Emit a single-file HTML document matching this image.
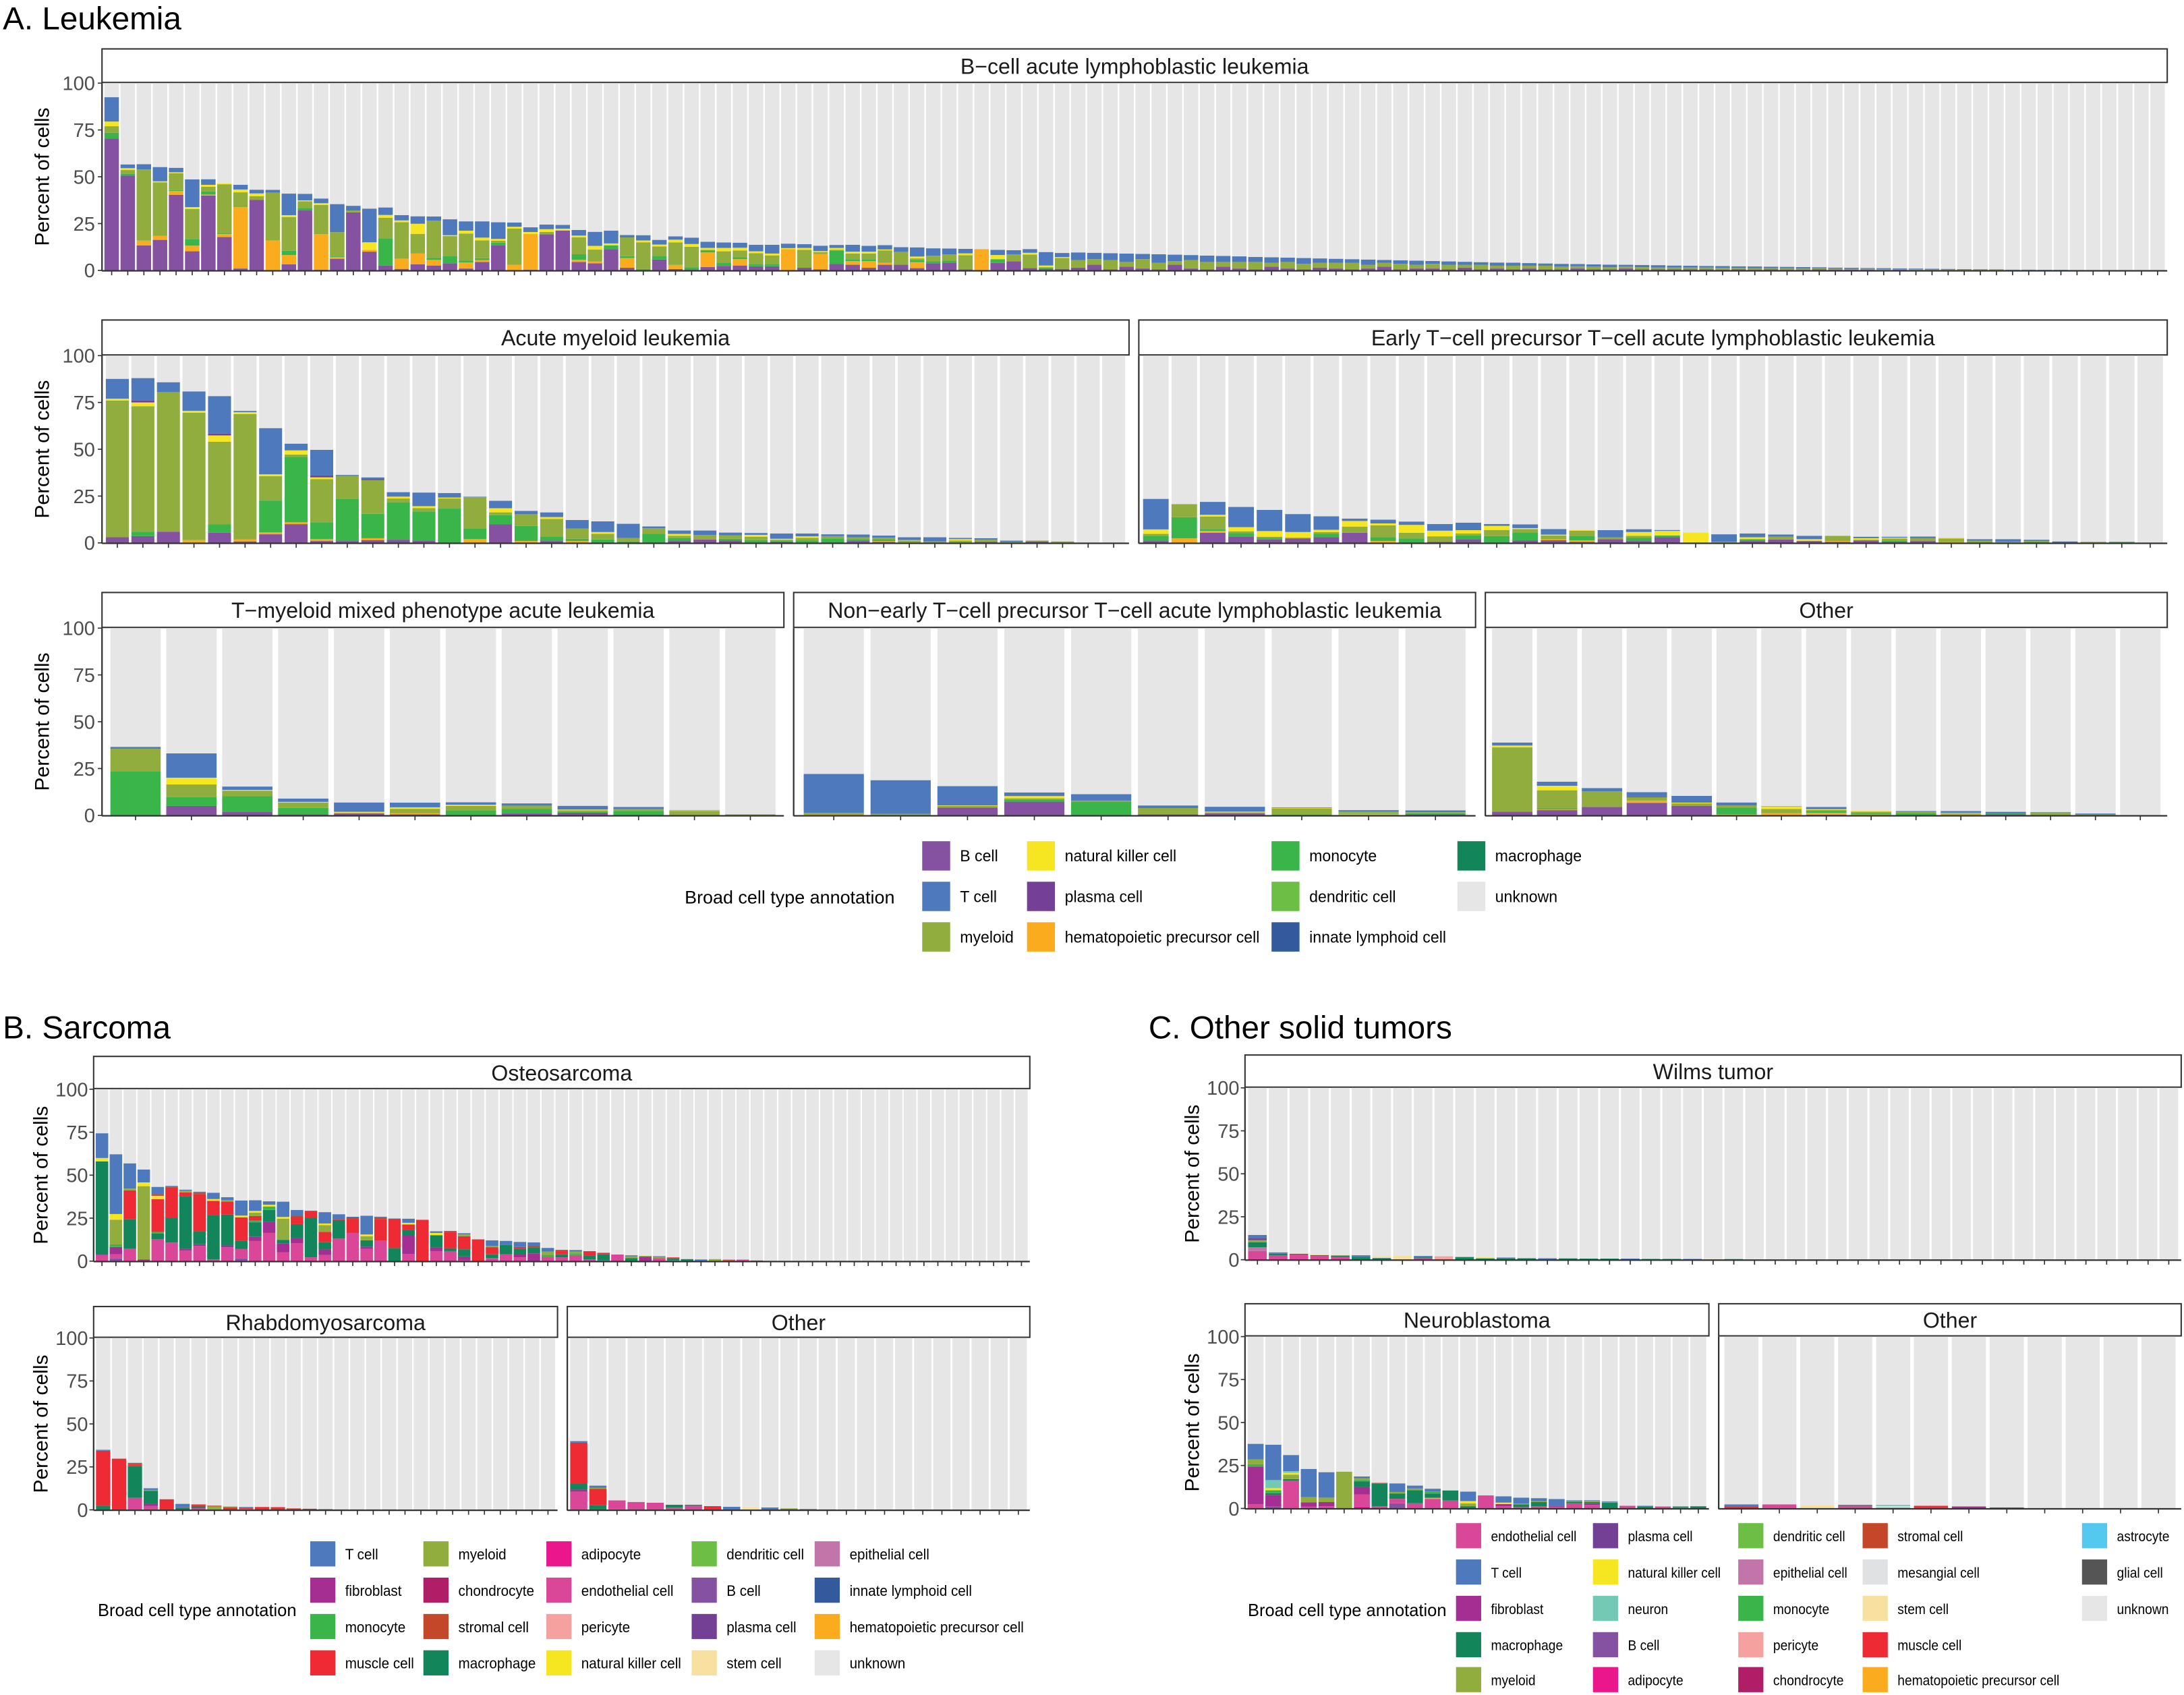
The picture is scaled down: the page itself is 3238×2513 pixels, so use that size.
<!DOCTYPE html>
<html><head><meta charset="utf-8">
<style>
html,body{margin:0;padding:0;background:#fff;}
svg{display:block;font-family:"Liberation Sans",Arial,sans-serif;}
</style></head>
<body>
<svg id="fig" xmlns="http://www.w3.org/2000/svg" width="3238" height="2513" viewBox="0 0 1563 1213" preserveAspectRatio="none">
<rect x="0" y="0" width="1563" height="1213" fill="#fff"/>
<text x="2" y="21" font-size="23" fill="#000">A.  Leukemia</text>
<text x="2" y="743" font-size="23" fill="#000">B.  Sarcoma</text>
<text x="822" y="743" font-size="23" fill="#000">C.  Other solid tumors</text>
<g id="panels"></g>
<g id="legends"></g>
</svg>
<script>
// ---------- colours ----------
const COL = {"T cell":"#4e79bc","myeloid":"#90ad3e","adipocyte":"#ec168c","dendritic cell":"#6dbe45","epithelial cell":"#c175a8","fibroblast":"#a42e92","chondrocyte":"#b01e68","endothelial cell":"#db4798","B cell":"#8551a1","innate lymphoid cell":"#325a9c","monocyte":"#39b54a","stromal cell":"#c4472a","pericyte":"#f4a19f","plasma cell":"#734096","hematopoietic precursor cell":"#fbac1e","muscle cell":"#ee2a34","macrophage":"#13855a","natural killer cell":"#f6e622","stem cell":"#f7e0a0","unknown":"#e5e6e5","neuron":"#74c9b5","mesangial cell":"#e0e1e3","astrocyte":"#54c9f0","glial cell":"#555555"};

// ---------- B-ALL (128 samples) ----------
const ball_B = [70.5,50.6,13.3,16.3,40.4,10.2,40,17.8,1,37.6, 0,3.2,32,0.3,6.2,31,10,2.6,0.8,3.2, 2.6,3.8,1,4.5,13.3,0,0.3,19.3,21.3,4.5, 3.8,11.4,1.4,0,5.8,0.7,0.6,1.8,2.4,2.6, 2.2,2.2,0,1.4,0.6,3.4,3,1.4,3,3, 1.2,3.8,4.2,0.6,0,4,4.8,1.2,0.8,0.8,
 1.5,3,0.5,2,1,0.5,3,1,0.5,2, 1,0.5,2,1,0.5,1.5,1,0.5,1,2, 0.5,1,1,0.5,1.5,0.5,1,0.5,1,0.5, 0.5,1,0.5,0.5,1,0.5,0.5,0.5,0.5,0.5, 0.3,0.5,0.3,0.5,0.3,0.3,0.5,0.3,0.3,0.3, 0.2,0.3,0.2,0.2,0.2,0.2,0.1,0.1,0.1,0.1, 0.1,0.1,0,0,0,0,0,0];
const ball_HPC = [0,0,2.6,2.2,2,3,0.5,1.7,33,0, 16,5,0,19,1,0,1,0,5.4,5.8, 3,0,3.2,1,0,3,19.2,0,0,1.2, 1,0,5.2,0,0,2.2,0,7.8,0,3.4, 0,0,11.4,0,8.2,0,2,3.6,1,0, 3.2,0,0,0,11.4,0,0,0,0,0];
const ball_mono = [3,1,0,0,0.5,3.6,1.7,0.7,0.5,0, 0,2.3,1.3,0,0.6,0,0,14.5,0,0, 1,4,1,1,1.5,0,0,0,0,2.9, 0,2,1,0.7,2,0,1,1,1.8,1, 1,1,0,0,0,7,1,1,0,0, 1,1,1,0,0,2,0,0,0.8,0];
const ball_my = [3.5,2,38,28.5,9,16,2.5,25.8,7.2,2, 25.5,18,3.6,15.6,12.6,1,0,11,19.5,10.5, 20,10.5,14.5,9.5,1,19.3,0,1.2,0,9, 6.3,0,10,14.3,5,12,11,0.4,6,3.6, 6,4.8,0,9.6,1,0.6,3,3,6.7,6.9, 1,3,3.3,7.5,0,0,3.8,7.2,0,5.8,
 4,3,5,2.5,5,3.5,2,4.5,4,2.5, 3.5,4,2,3.5,3,2.5,3,3.5,2,2, 3,2,2.5,2.5,1.5,2.5,1.5,2,1.5,2, 1.5,1.2,1.5,1.2,1,1.2,1,1,1,1, 1,0.8,0.9,0.7,0.8,0.7,0.6,0.6,0.5,0.5, 0.5,0.4,0.4,0.3,0.3,0.2,0.2,0.2,0.1,0.1, 0.1,0.1,0.1,0.1,0,0,0,0];
const ball_NK = [2.5,1,0,0.6,0.5,1,1,0.5,1.5,1.5, 0,1,0.5,1,0,0,4,1.5,1,5.4, 0,0.5,1.5,1.5,1,1,1,1.5,1,1, 2,1,0,1,1,1.5,1.5,1,1.8,1.5, 1,1,0.5,1,0.5,1,1,1,0.5,0, 1,0,0,1,0,2.2,0,1,1,0.5];
const ball_T = [13,2,2.8,7.6,2.4,14.8,3,0,2.5,2, 1.5,11.5,3.5,2.5,15,2.5,18,4,2.8,4, 2.2,8.5,5,8.7,8.9,2.3,2.5,2.5,2,3, 7.5,6.8,1.3,2.8,2.5,1.8,3.4,3.3,2.9,2.7, 3.5,4.7,2.4,2,2.9,1.6,3.7,3.1,2.3,2.5, 4.9,4,3.2,2.4,0,2.8,2.2,2,7.2,2.2,
 4.1,3.4,3.7,4.5,2.8,4.6,3.4,2.7,3.4,3.2, 3,2.7,3,2.3,3.1,2.4,2.2,2,2.8,1.6, 1.9,2.2,1.5,1.8,1.6,1.4,1.7,1.6,1.4,1.2, 1.5,1.2,1.2,1.4,1,1.2,1.3,1.1,1,0.9, 1,0.9,0.9,0.8,0.8,0.8,0.6,0.6,0.6,0.5, 0.5,0.4,0.4,0.4,0.3,0.3,0.3,0.2,0.2,0.2, 0.1,0.1,0.1,0.1,0.1,0.1,0,0];

// ---------- AML (40) ----------
const aml_B = [3,3.6,6,0,5.4,0.8,4.6,10,1,1, 1.5,1.7,1.3,0,0,10,0,1,0,0, 0,0,1,1.8,1.2,0,0.5,0,0,1, 0.5,0,0,0,0.5,0,0.8,0,0,0];
const aml_HPC = [0,0,0,1.5,0,1,1,1,1,0, 1,0,0,0,2,0,1,0,1,0, 0,0,0,0,0,0,0,0,0,0, 0.5,0,0,0,0,0,0,0,0,0];
const aml_mono = [0,2.4,0,0,4.6,0,17,35,9,22.5, 13,20,15.5,18.3,5.8,4.8,8,2.2,1.2,1.8, 0.8,4.8,1.6,0,1,1.5,0.5,1.2,2.4,1, 1,0,0,0,0,0,0,0,0,0];
const aml_my = [73,67,74.5,68,44,67,13,1.2,23,12.3, 18,2,1.8,5.4,16.6,1.5,6.3,9.6,5.4,3, 1.8,3,1.2,2.4,1.8,1.8,0.7,1.5,1.2,1, 0.8,1.2,0.8,1.2,1.2,0.5,0.5,0.8,0,0];
const aml_NK = [1,2,0,1,3.4,1,1,2.2,1,0, 0,1,1,0.5,0,2.2,0,1,0,1, 0,0,1,0,0,1,0.5,0.8,0,0, 0,0.3,0,0.8,0,0,0,0,0,0];
const aml_plasma = [0,1,0,0,1,0,0,0,1,0, 0.5];
const aml_T = [10.6,12,5.3,10.4,20,0.7,24.7,3.6,13.7,0.5, 1,2.4,7.3,2.4,0.3,4,1.8,2.5,4.6,5.7, 7.6,1,1.8,2.4,1.5,1,2.8,1.5,1,1.5, 1.1,1.5,2.2,0.7,0.8,0.7,0,0,0,0];

// ---------- ETP (36) ----------
const etp_B = [1,0,5.4,3.2,1.8,2.3,3,5.4,0,0, 0.5,2,0,1.2,1.4,0.5,2,1,3,0, 0,1,1.8,1,0.5,1.2,0.5,1,0,0, 0,0,0,0,0,0];
const etp_HPC = [0,2.4,1,0,0,0,0,0,1,0, 0,0,0,0,0.5,0.8,0,0,0,0, 0,0,0,0,0.5,0,0,0,0.5,0];
const etp_mono = [2.8,11.3,1,2,1,0,1.8,0,2,2.4, 0,2,3.6,4.4,0,2.4,0,1.8,1,0, 0,1,0,0,0,0,0.8,0,0,0, 0,0.5,0,0,0.6,0];
const etp_my = [1,7,6.6,1,0.5,0.5,1,3.3,6.4,3, 3,1,3.3,1.8,2,2.8,1,1,0,0.2, 0.6,0,1.5,0,2.8,0.5,1,1.5,1.8,1.2, 0.6,0.5,0,0.6,0,0];
const etp_NK = [2.4,0,1,2.2,3,3,1.2,3,1,4.2, 3,1.8,2.2,0.5,0.5,0.5,0,2,2.4,5.3, 0,1,0,1,0,0.8,0.5,0,0.5,0];
const etp_T = [16.3,0,6.9,10.8,11.3,9.6,7.2,1.3,2,1.8, 3.6,4,1,2,3,0,3.8,1.5,0.5,0, 4,2,1.2,1.8,0,0.8,0.5,0.9,0,0.8, 1.4,0.7,0.8,0,0,0];

// ---------- T-myeloid (12) ----------
const tmy_B = [0,5,2,0.5,1,0.5,0,1,1.4,0,0,0];
const tmy_HPC = [0,0,0,0,0.4,0.6,0,0,0,0,0,0];
const tmy_mono = [23.6,4.8,8.2,3.5,0,0,2.7,2.5,0.5,2.4,0,0];
const tmy_my = [12,6.7,3,2.8,0,2.4,2.4,1.7,0.8,1,2.4,0.6];
const tmy_NK = [0,3.6,0.4,0.4,0.5,0.8,0.6,0,0.4,0,0.3,0];
const tmy_T = [1,13,1.8,1.8,5,2.5,1.3,1.2,2,1.1,0.2,0];

// ---------- Non-early T-ALL (10) ----------
const ne_B = [0,0,4.2,7.3,0,0.6,1,0,0.2,0.5];
const ne_HPC = [0.3,0,0,0,0,0,0,0,0.6,0];
const ne_mono = [0,0,0,1.2,7.3,0,0,0.3,0.3,0.6];
const ne_my = [1,0.8,0.8,0.6,0.6,3.3,0.6,3.4,0.9,0.6];
const ne_NK = [0,0,0.3,1.2,0,0,0.4,0.3,0,0];
const ne_T = [20.8,18,10.3,1.9,3.4,1.4,2.6,0.3,0.8,1];

// ---------- Other leukemia (15) ----------
const ol_B = [2,2.8,4.5,6.7,5.1,0,0,0.3,0,0,0,0.5,0,0,0];
const ol_HPC = [0,0.3,0,1.2,0,0.5,1.2,1,0.5,0,0.4,0,0,0,0];
const ol_mono = [0,0.6,0,0,0,3.6,0,1,0.8,1.3,0,0.5,0,0,0];
const ol_my = [34.3,9.7,8.4,1.8,1.3,1.2,2.2,0.6,0.7,0.6,0.6,0,1.6,0.4,0];
const ol_NK = [1,2.4,0,0,0.4,0,1.2,0.4,0.4,0,0.3,0,0,0,0];
const ol_plasma = [0,0,0,0.4,0,0.3];
const ol_T = [1.6,2.2,1.7,2.3,3.6,1.3,0.2,1.2,0,0.4,1,0.9,0.2,0.6,0];

// ---------- Osteosarcoma (67) ----------
const os_B = [0,1.5,0,0,0,0,0,0,0,0, 1.5];
const os_endo = [3.5,2.4,7.2,0,12.7,10.8,6.2,8.8,1,8.1, 5.5,11.7,16.4,5.2,10.5,2.2,3.5,13.1,16.4,7.1, 11.8,0,4.2,0,5.8,5.8,0.5,0,1.8,3.9, 2.2,0,2.6,2.2,3.5,1,0.4,3.9,0,0, 1.8,0.4,0,0,0,0,0.9,0];
const os_fibro = [0.5,4.3,0,1,0,0,1,1,0,1, 0,2.4,6.4,5.2,3.1,0,3.3,0,0,1.3, 0,0,10.8,0,2.1,0,2.2,0,0,0, 2,4.5,0,0,0,0,0,0,0,2.6];
const os_chondro = [0,0,0,0,0,0,0,0,0,0, 0,0,0,0,0,0,0,0,0,0, 0,0,0,0,0,0,0,0,0,0, 0,0,0,0,0,0,0,0,0,0, 0,0,0,0,0,0,0,0.4];
const os_macro = [54,0,17.3,0,3.3,14.4,30.6,7.6,25.8,18, 4.7,8.5,7,2,7.9,23,4.2,10.8,0,3.7, 0,7.6,3.3,0,7.2,1.7,4.2,0,2.1,5.5, 3,3.4,0,1.7,0,2.2,3.5,0,1.8,0, 0,1.2,1.2];
const os_mono = [0,1.5,0,0,1,0,0,0,0,0, 0,1,2,0,0,0,0,0,0,0, 0,0,0,0,0,0,0,0,0,0, 0,0,1,0,1];
const os_muscle = [0,0,16.7,0,19,17.5,2.2,21.4,8.3,7.5, 13.8,2.6,0,0,3.9,3.9,6,0.5,8,0, 12.7,17,3,24.1,0,9.6,7.6,12.7,4.2,0, 1,0,0,2.2,0,2.6,1,0,0,0, 0,0.6,0,0,0,0.6];
const os_my = [0,14.4,1,42.6,0,0,1,0,0,1, 0,2,0,12.3,0,0,3.9,0,0,2.4, 0,0,0,0,0,0,1,0,0.7,0, 0,0,2,0,1,0,0,0,1,0.5, 0.6,0,0,0,1.2,0.4];
const os_NK = [2,3.3,0,2.2,2,0,0,0,1,0, 1,1,1,1,0,0,1,0,0,1, 0,0,1,0,1.3];
const os_stromal = [0,0,0,0,1,0.5,0,1,0,0, 0,0,0,0,1,0,0,0,1,0, 1,0,0,0,0,0.5,0,0,0,0.3, 0,1,0,0.5];
const os_T = [14.4,34.8,14.7,7.5,4.2,0.6,0.6,0.6,3.7,1.6, 8.8,6.2,2,8.9,3.4,0.3,6.6,2.9,0.4,10.9, 0.4,0.2,2.4,0,1,0,0.8,0,3.3,2.1, 3,2,2.1,0,1,0,0,0,0.6,0, 0.5,0,0,1];

// ---------- Rhabdomyosarcoma (29) ----------
const rh_endo = [0,0,7,2.2,0,0,1,0,0,0.5];
const rh_fibro = [0,0,0,1.3];
const rh_macro = [2.4,0,18.4,7.6,0,1,1.2];
const rh_muscle = [32,29.8,1,0,6.2,0,1,0,1.5,0.8, 1.7,1.6,0.9,0.7,0.4,0.3,0.3,0.3,0.3];
const rh_my = [0,0,0,0.5,0,0,0,2,0.5];
const rh_stromal = [0,0,0.5,0,0,0.5,0,0.5];
const rh_T = [0.6,0,0.5,1,0,2,0,0,0,0.4];

// ---------- Other sarcoma (24) ----------
const osa_adipo = [0,0.4,0.3];
const osa_chondro = [0,0,0,0,0,0,0,0,0,0,0,0,0.4];
const osa_endo = [10.5,0,5.2,4.6,4.2,1.3,2.4];
const osa_fibro = [1.3];
const osa_macro = [3.3,2.2,0,0,0,1.7,0.6,0,0,0,0,0.5,0,0.3];
const osa_muscle = [24,9.7,0,0,0,0,0,2.2];
const osa_my = [0,0.5,0,0,0,0,0,0,0,0,0,0.4];
const osa_stem = [0,0,0,0,0,0,0,0,0,1.6];
const osa_T = [0.9,1.3,0,0,0,0,0,0,1.8,0,1.4];

// ---------- Wilms (45) ----------
const wi_endo = [5,2.6,3,2.2,1.6,0,0,0,0.8];
const wi_epi = [2.2];
const wi_macro = [3,0.9,0.5,0.5,0.9,1.6,1,0,0.6,0, 1.6,0.8,0.8,0.9,0,0.8,0.7,0.7,0,0.5, 0.5,0,0,0.4];
const wi_mes = [0,0,0,0,0,0,0.6];
const wi_my = [1.2];
const wi_NK = [0,0,0,0,0,0,0,0,0,0,0,0.5];
const wi_peri = [0,0,0,0,0,0,0,0,0,2];
const wi_plasma = [1];
const wi_stem = [0,0,0.2,0.3,0.3,0,0.6,2.2,0,0, 0,0,0,0,0,0,0,0,0,0, 0,0,0.4];
const wi_T = [2,0.8,0,0,0,1,0,0,0.8,0, 0,0,0.5,0,0.9,0,0,0,0.7,0, 0,0.5];

// ---------- Neuroblastoma (26) ----------
const nb_adipo = [0,0,0,0,0,0,1];
const nb_B = [0,1.3,0,0,0,0,0,0,3];
const nb_endo = [2.4,0,16.1,1,1.3,0,7.2,1.3,2.6,3, 5.6,4.6,0,7.6,1.3,0.8,1.3,1,3,2.1, 0,1.6,0,1,0.6,0];
const nb_fibro = [22,6.6,0,2.6,2.4,0,4.3,0,0,0, 0,0,0,0,1.3,0,0,0.5,0,0.9];
const nb_HPC = [0,0,0,0,0,0,0,0,0,0,0.6];
const nb_macro = [0,1,1,0,0,0,3.3,13.1,3,7.6, 2.5,5.9,1.3,0,0,1.6,2.4,0,0.9,0.7, 3.3,0,1.2,0,0.6,1.3];
const nb_mono = [1.3,1.7,0,0,0,0,0.7,0,0,0,1.2];
const nb_my = [2.9,0,2.6,3,2.6,21.4,1,0,1,1, 0,0,1.7,0,0,0.5,0.5,0,0.5,0.7, 0.5,0,0,0.3];
const nb_neuron = [0,4.7,1];
const nb_NK = [0,1.2,1,0,0,0,0,0,0,0, 0,0,1.3,0,0.8];
const nb_stromal = [0,0,0,0,0,0,0,0.5];
const nb_T = [9,20.6,9.4,16.4,14.8,0,1.1,0,5,1.7, 1.6,0,5.5,0,3.7,3.4,1.8,4,0.4,0.4, 0.4,0,0.4];

// ---------- Other solid (12) ----------
const os2_adipo = [0,0.2];
const os2_endo = [0,2.2,0,1.6];
const os2_fibro = [0,0,0,0,0.4,0,1.2];
const os2_macro = [0,0,0,0.5,0,0.4,0,0.6];
const os2_mes = [0,0,0,0,0.9];
const os2_muscle = [1.3,0,0,0,0,1.2];
const os2_neuron = [0,0,0,0,0.8];
const os2_stem = [0,0,2];
const os2_T = [1.1];

const yTicks = [0,25,50,75,100];

const NS = "http://www.w3.org/2000/svg";
function mk(tag, attrs, parent){
  const e = document.createElementNS(NS, tag);
  for (const k in attrs) e.setAttribute(k, attrs[k]);
  parent.appendChild(e);
  return e;
}
function slug(s){return s.toLowerCase().replace(/[^a-z0-9]+/g,'-').replace(/^-|-$/g,'');}

const panels = [
 {id:'b-all', title:'B\u2212cell acute lymphoblastic leukemia', x0:73, x1:1551, sy:35, yT:59.5, yB:193.5, n:128, lab:true, tx:68, ax:30,
  s:[['B cell',ball_B],['hematopoietic precursor cell',ball_HPC],['monocyte',ball_mono],['myeloid',ball_my],['natural killer cell',ball_NK],['T cell',ball_T]]},
 {id:'aml', title:'Acute myeloid leukemia', x0:73, x1:808, sy:229, yT:254.5, yB:388.5, n:40, lab:true, tx:68, ax:30,
  s:[['B cell',aml_B],['hematopoietic precursor cell',aml_HPC],['monocyte',aml_mono],['myeloid',aml_my],['natural killer cell',aml_NK],['plasma cell',aml_plasma],['T cell',aml_T]]},
 {id:'etp', title:'Early T\u2212cell precursor T\u2212cell acute lymphoblastic leukemia', x0:815, x1:1551, sy:229, yT:254.5, yB:388.5, n:36, lab:false,
  s:[['B cell',etp_B],['hematopoietic precursor cell',etp_HPC],['monocyte',etp_mono],['myeloid',etp_my],['natural killer cell',etp_NK],['T cell',etp_T]]},
 {id:'t-myeloid', title:'T\u2212myeloid mixed phenotype acute leukemia', x0:73, x1:561, sy:424, yT:449.5, yB:583.5, n:12, lab:true, tx:68, ax:30,
  s:[['B cell',tmy_B],['hematopoietic precursor cell',tmy_HPC],['monocyte',tmy_mono],['myeloid',tmy_my],['natural killer cell',tmy_NK],['T cell',tmy_T]]},
 {id:'non-early', title:'Non\u2212early T\u2212cell precursor T\u2212cell acute lymphoblastic leukemia', x0:568, x1:1056, sy:424, yT:449.5, yB:583.5, n:10, lab:false,
  s:[['B cell',ne_B],['hematopoietic precursor cell',ne_HPC],['monocyte',ne_mono],['myeloid',ne_my],['natural killer cell',ne_NK],['T cell',ne_T]]},
 {id:'other-leukemia', title:'Other', x0:1063, x1:1551, sy:424, yT:449.5, yB:583.5, n:15, lab:false,
  s:[['B cell',ol_B],['hematopoietic precursor cell',ol_HPC],['monocyte',ol_mono],['myeloid',ol_my],['natural killer cell',ol_NK],['plasma cell',ol_plasma],['T cell',ol_T]]},
 {id:'osteosarcoma', title:'Osteosarcoma', x0:67, x1:737, sy:756, yT:779.5, yB:902.5, n:67, lab:true, tx:63, ax:29,
  s:[['B cell',os_B],['chondrocyte',os_chondro],['endothelial cell',os_endo],['fibroblast',os_fibro],['macrophage',os_macro],['monocyte',os_mono],['muscle cell',os_muscle],['myeloid',os_my],['natural killer cell',os_NK],['stromal cell',os_stromal],['T cell',os_T]]},
 {id:'rhabdomyosarcoma', title:'Rhabdomyosarcoma', x0:67, x1:399, sy:935, yT:957.5, yB:1080.5, n:29, lab:true, tx:63, ax:29,
  s:[['endothelial cell',rh_endo],['fibroblast',rh_fibro],['macrophage',rh_macro],['muscle cell',rh_muscle],['myeloid',rh_my],['stromal cell',rh_stromal],['T cell',rh_T]]},
 {id:'other-sarcoma', title:'Other', x0:406, x1:737, sy:935, yT:957.5, yB:1080.5, n:24, lab:false,
  s:[['adipocyte',osa_adipo],['chondrocyte',osa_chondro],['endothelial cell',osa_endo],['fibroblast',osa_fibro],['macrophage',osa_macro],['muscle cell',osa_muscle],['myeloid',osa_my],['stem cell',osa_stem],['T cell',osa_T]]},
 {id:'wilms', title:'Wilms tumor', x0:891, x1:1561, sy:755, yT:778.5, yB:901.5, n:45, lab:true, tx:887, ax:853,
  s:[['endothelial cell',wi_endo],['epithelial cell',wi_epi],['macrophage',wi_macro],['mesangial cell',wi_mes],['myeloid',wi_my],['natural killer cell',wi_NK],['pericyte',wi_peri],['plasma cell',wi_plasma],['stem cell',wi_stem],['T cell',wi_T]]},
 {id:'neuroblastoma', title:'Neuroblastoma', x0:891, x1:1223, sy:933, yT:956.5, yB:1079.5, n:26, lab:true, tx:887, ax:853,
  s:[['adipocyte',nb_adipo],['B cell',nb_B],['endothelial cell',nb_endo],['fibroblast',nb_fibro],['hematopoietic precursor cell',nb_HPC],['macrophage',nb_macro],['monocyte',nb_mono],['myeloid',nb_my],['natural killer cell',nb_NK],['neuron',nb_neuron],['stromal cell',nb_stromal],['T cell',nb_T]]},
 {id:'other-solid', title:'Other', x0:1230, x1:1561, sy:933, yT:956.5, yB:1079.5, n:12, lab:false,
  s:[['adipocyte',os2_adipo],['endothelial cell',os2_endo],['fibroblast',os2_fibro],['macrophage',os2_macro],['mesangial cell',os2_mes],['muscle cell',os2_muscle],['neuron',os2_neuron],['stem cell',os2_stem],['T cell',os2_T]]}
];

const root = document.getElementById('panels');
panels.forEach(p => {
  const g = mk('g', {}, root);
  
  
  const band = (p.x1 - p.x0) / (p.n + 0.2);
  const xPos = i => p.x0 + (i + 0.6) * band;
  const yPos = v => p.yB - v / 100 * (p.yB - p.yT);
  const bw = band * 0.9;
  const st = mk('rect', {x:p.x0, y:p.sy, width:p.x1-p.x0, height:p.yT-p.sy-0.5, fill:'#fff', stroke:'#333', 'stroke-width':1}, g);
  
  
  const stt = mk('text', {x:(p.x0+p.x1)/2, y:(p.sy+p.yT)/2+5.5, 'text-anchor':'middle', 'font-size':15.5, fill:'#1a1a1a'}, g);
  stt.textContent = p.title;
  
  
  for (let i = 0; i < p.n; i++) {
    let acc = 0;
    const xl = xPos(i) - bw/2;
    p.s.forEach(([nm, arr]) => {
      const v = arr[i] || 0;
      if (v <= 0) return;
      const r = mk('rect', {x:xl, y:yPos(acc+v), width:bw, height:yPos(acc)-yPos(acc+v), fill:COL[nm]}, g);
      
      
      acc += v;
    });
    const top = Math.min(acc, 100);
    const u = mk('rect', {x:xl, y:yPos(100), width:bw, height:yPos(top)-yPos(100), fill:COL['unknown']}, g);
    
    
    const t = mk('line', {x1:xPos(i), x2:xPos(i), y1:p.yB, y2:p.yB+3.5, stroke:'#333', 'stroke-width':0.8}, g);
    
    
  }
  const al = mk('line', {x1:p.x0, x2:p.x0, y1:p.yT, y2:p.yB+0.5, stroke:'#333', 'stroke-width':1.1}, g);
  
  
  const bl = mk('line', {x1:p.x0, x2:p.x1, y1:p.yB+0.3, y2:p.yB+0.3, stroke:'#333', 'stroke-width':1.1}, g);
  
  
  if (p.lab) {
    yTicks.forEach(v => {
      const tk = mk('line', {x1:p.x0-3, x2:p.x0, y1:yPos(v), y2:yPos(v), stroke:'#333', 'stroke-width':0.8}, g);
      
      
      const tl = mk('text', {x:p.tx, y:yPos(v)+5, 'text-anchor':'end', 'font-size':14, fill:'#4d4d4d'}, g);
      tl.textContent = v;
      
      
    });
    const cy = (p.yT + p.yB) / 2;
    const yt = mk('text', {x:p.ax, y:cy, 'text-anchor':'middle', 'font-size':14.5, fill:'#000', transform:'rotate(-90 '+(p.ax)+' '+cy+')', dy:5}, g);
    yt.textContent = 'Percent of cells';
    
    
  }
});

// ---------- legends ----------
const legA = [['B cell','T cell','myeloid'],['natural killer cell','plasma cell','hematopoietic precursor cell'],['monocyte','dendritic cell','innate lymphoid cell'],['macrophage','unknown']];
const legB = [['T cell','fibroblast','monocyte','muscle cell'],['myeloid','chondrocyte','stromal cell','macrophage'],['adipocyte','endothelial cell','pericyte','natural killer cell'],['dendritic cell','B cell','plasma cell','stem cell'],['epithelial cell','innate lymphoid cell','hematopoietic precursor cell','unknown']];
const legC = [['endothelial cell','T cell','fibroblast','macrophage','myeloid'],['plasma cell','natural killer cell','neuron','B cell','adipocyte'],['dendritic cell','epithelial cell','monocyte','pericyte','chondrocyte'],['stromal cell','mesangial cell','stem cell','muscle cell','hematopoietic precursor cell'],['astrocyte','glial cell','unknown']];
const lroot = document.getElementById('legends');
function legend(id, cols, colX, rowY, kw, kh, titleX, titleY, fs, tfs, sx){
  const g = mk('g', {}, lroot);
  
  
  const t = mk('text', {x:titleX, y:titleY+4.5, 'font-size':tfs, fill:'#000', textLength:'', lengthAdjust:'spacingAndGlyphs'}, g);
  t.removeAttribute('textLength');
  t.textContent = 'Broad cell type annotation';
  
  
  cols.forEach((col, ci) => col.forEach((nm, ri) => {
    const k = mk('rect', {x:colX[ci], y:rowY[ri], width:kw, height:kh, fill:COL[nm]}, g);
    
    
    const tx = colX[ci]+kw+7, ty = rowY[ri]+kh/2+4;
    const l = mk('text', {x:0, y:0, 'font-size':fs, fill:'#000', transform:'translate('+tx+' '+ty+') scale('+sx+' 1)'}, g);
    l.textContent = nm;
    
    
  }));
}
legend('legend-leukemia', legA, [660,735,910,1043], [602,631,660], 20, 21, 490, 642, 11.5, 13, 0.97);
legend('legend-sarcoma', legB, [222,303,391,495,583], [1103,1129,1155,1181], 18, 18, 70, 1152, 10.5, 12.3, 0.95);
legend('legend-other-solid', legC, [1042,1140,1244,1333,1490], [1090,1116,1142,1168,1193], 18, 18, 893, 1152, 10.3, 12.3, 0.9);
</script>
</body></html>
